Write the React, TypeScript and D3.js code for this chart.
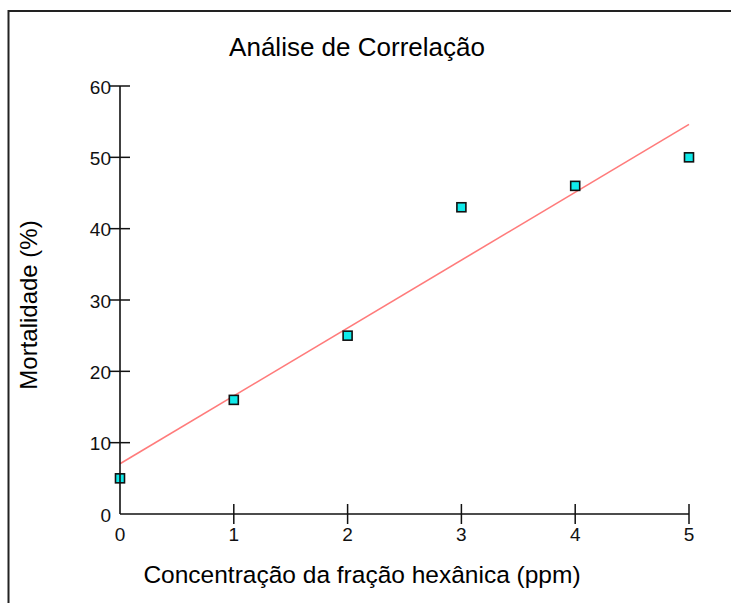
import React from "react";
import * as d3 from "d3";

// dados
const concentracao = [0, 1, 2, 3, 4, 5];
const mortalidade = [5, 16, 25, 43, 46, 50];
const yTicks = [0, 10, 20, 30, 40, 50, 60];
const xTicks = [0, 1, 2, 3, 4, 5];

const W = 731;
const H = 603;

export default function App() {
  const x = d3.scaleLinear().domain([0, 5]).range([120, 689]);
  const y = d3.scaleLinear().domain([0, 60]).range([514, 86]);

  // reta de regressão (mínimos quadrados)
  const mx = d3.mean(concentracao) as number;
  const my = d3.mean(mortalidade) as number;
  const sxy = d3.sum(concentracao, (v, i) => (v - mx) * (mortalidade[i] - my));
  const sxx = d3.sum(concentracao, (v) => (v - mx) ** 2);
  const slope = sxy / sxx;
  const inter = my - slope * mx;
  const line = d3
    .line<number>()
    .x((d) => x(d))
    .y((d) => y(inter + slope * d));

  const font = "'Liberation Sans', Arial, sans-serif";

  return (
    <svg
      width={W}
      height={H}
      style={{ position: "absolute", left: 0, top: 0, background: "#fff" }}
      fontFamily={font}
    >
      {/* moldura */}
      <rect x={8.5} y={11} width={W} height={H} fill="none" stroke="#222" strokeWidth={2} />

      <text x={357} y={56} textAnchor="middle" fontSize={26} fill="#000">
        Análise de Correlação
      </text>

      {/* regressão */}
      <path d={line([0, 5]) || ""} stroke="#ff7b7b" strokeWidth={1.6} fill="none" />

      {/* pontos */}
      {concentracao.map((c, i) => (
        <rect
          key={i}
          x={x(c) - 4.5}
          y={y(mortalidade[i]) - 4.5}
          width={9}
          height={9}
          fill="#10eaea"
          stroke="#111"
          strokeWidth={1.6}
        />
      ))}

      {/* eixo y */}
      <line x1={120} x2={120} y1={y(60)} y2={y(0)} stroke="#111" strokeWidth={1.6} />
      {yTicks.map((t) => (
        <g key={t}>
          {t !== 0 && (
            <line x1={110} x2={130} y1={y(t)} y2={y(t)} stroke="#111" strokeWidth={1.5} />
          )}
          <text x={111} y={y(t) + 7.5} textAnchor="end" fontSize={19} fill="#111">
            {t}
          </text>
        </g>
      ))}

      {/* eixo x */}
      <line x1={x(0)} x2={x(5)} y1={514} y2={514} stroke="#111" strokeWidth={1.6} />
      {xTicks.map((t) => (
        <g key={t}>
          {t !== 0 && (
            <line x1={x(t)} x2={x(t)} y1={504} y2={524} stroke="#111" strokeWidth={1.5} />
          )}
          <text x={x(t)} y={541} textAnchor="middle" fontSize={19} fill="#111">
            {t}
          </text>
        </g>
      ))}

      <text x={362} y={583} textAnchor="middle" fontSize={24.5} fill="#000">
        Concentração da fração hexânica (ppm)
      </text>
      <text
        transform="translate(37,305) rotate(-90)"
        textAnchor="middle"
        fontSize={24}
        fill="#000"
      >
        Mortalidade (%)
      </text>
    </svg>
  );
}
